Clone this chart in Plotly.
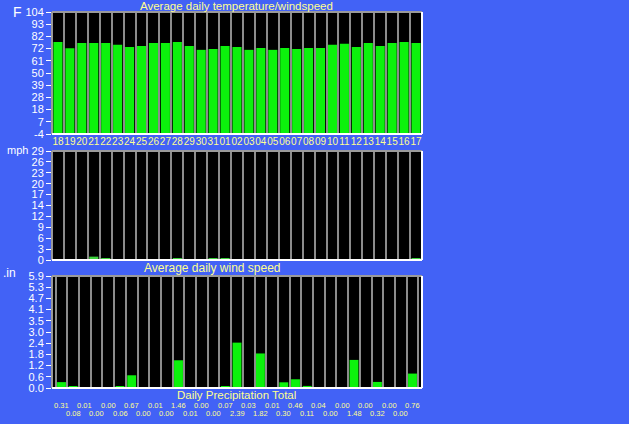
import plotly.graph_objects as go

days = ["18", "19", "20", "21", "22", "23", "24", "25", "26", "27", "28", "29", "30", "31",
        "01", "02", "03", "04", "05", "06", "07", "08", "09", "10", "11", "12", "13", "14",
        "15", "16", "17"]

temp_f = [77.5, 71.9, 76.6, 76.6, 76.6, 74.9, 73.1, 74.0, 76.6, 76.6, 77.5, 74.0, 70.5, 71.3,
          74.0, 73.1, 70.5, 72.2, 70.5, 72.2, 71.3, 72.2, 72.2, 74.9, 75.8, 73.1, 76.6, 74.0,
          76.6, 77.5, 76.6]

wind_mph = [0, 0, 0, 0.9, 0.4, 0, 0, 0, 0, 0, 0.3, 0, 0, 0.3,
            0.3, 0, 0, 0, 0, 0, 0, 0, 0, 0, 0, 0, 0, 0,
            0, 0, 0.3]

precip_in = [0.31, 0.08, 0.01, 0.00, 0.00, 0.06, 0.67, 0.00, 0.01, 0.00, 1.46, 0.01, 0.00, 0.00,
             0.07, 2.39, 0.03, 1.82, 0.01, 0.30, 0.46, 0.11, 0.04, 0.00, 0.00, 1.48, 0.00, 0.32,
             0.00, 0.00, 0.76]

temp_ticks = ["-4", "7", "18", "28", "39", "50", "61", "72", "82", "93", "104"]
wind_ticks = ["0", "3", "6", "9", "12", "14", "17", "20", "23", "26", "29"]
precip_ticks = ["0.0", "0.6", "1.2", "1.8", "2.4", "3.0", "3.5", "4.1", "4.7", "5.3", "5.9"]

temp_range = [-4, 104]
wind_range = [0, 29]
precip_range = [0, 5.9]

BG = "#4262F6"
GREEN = "#0CF20C"
YELLOW = "#FFFF90"
FONT = "Liberation Sans"


def tick_pos(rng, n):
    step = (rng[1] - rng[0]) / (n - 1)
    return [rng[0] + i * step for i in range(n)]


fig = go.Figure()

fig.add_trace(go.Bar(x=days, y=[t - temp_range[0] for t in temp_f], base=temp_range[0],
                     marker=dict(color=GREEN, line=dict(width=0)), width=0.76,
                     xaxis="x", yaxis="y", hovertext=temp_f))
fig.add_trace(go.Bar(x=days, y=wind_mph, marker=dict(color="#3ED43E", line=dict(width=0)),
                     width=0.76, xaxis="x2", yaxis="y2"))
fig.add_trace(go.Bar(x=days, y=precip_in, marker=dict(color=GREEN, line=dict(width=0)),
                     width=0.76, xaxis="x3", yaxis="y3"))

xdom = [52 / 629, 422 / 629]
xcommon = dict(type="category", domain=xdom, tickson="boundaries", showgrid=True,
               gridcolor="#8C8C8C", gridwidth=1.5, ticks="", showline=False, zeroline=False,
               tickmode="linear", dtick=1, tickangle=0, fixedrange=True)
ycommon = dict(showgrid=False, zeroline=False, ticks="outside", ticklen=5, tickcolor="white",
               tickwidth=1, tickfont=dict(family=FONT, size=11, color="white"), fixedrange=True)

fig.update_layout(
    width=629, height=424,
    margin=dict(l=0, r=0, t=0, b=0, autoexpand=False),
    paper_bgcolor=BG, plot_bgcolor="black",
    showlegend=False, bargap=0.24,
    xaxis=dict(**xcommon, anchor="y", showticklabels=True,
               tickfont=dict(family=FONT, size=10, color=YELLOW)),
    xaxis2=dict(**xcommon, anchor="y2", showticklabels=False),
    xaxis3=dict(**xcommon, anchor="y3", showticklabels=False),
    yaxis=dict(**ycommon, anchor="x", domain=[(424 - 134) / 424, (424 - 12) / 424],
               range=temp_range, tickvals=tick_pos(temp_range, len(temp_ticks)),
               ticktext=temp_ticks),
    yaxis2=dict(**ycommon, anchor="x2", domain=[(424 - 260) / 424, (424 - 151) / 424],
                range=wind_range, tickvals=tick_pos(wind_range, len(wind_ticks)),
                ticktext=wind_ticks),
    yaxis3=dict(**ycommon, anchor="x3", domain=[(424 - 388) / 424, (424 - 276) / 424],
                range=precip_range, tickvals=tick_pos(precip_range, len(precip_ticks)),
                ticktext=precip_ticks),
)

# bevelled frame round each panel
for xa, ya in [("x", "y"), ("x2", "y2"), ("x3", "y3")]:
    xr, yr = xa + " domain", ya + " domain"
    for x0, y0, x1, y1, col in [(0, 1, 1, 1, "#9A9A9A"), (0, 0, 0, 1, "#9A9A9A"),
                                (0, 0, 1, 0, "white"), (1, 0, 1, 1, "white")]:
        fig.add_shape(type="line", xref=xr, yref=yr, x0=x0, y0=y0, x1=x1, y1=y1,
                      line=dict(color=col, width=2))

titles = [("Average daily temperature/windspeed", 236, 6, 11.5),
          ("Average daily wind speed", 212, 268, 12),
          ("Daily Precipitation Total", 236, 395, 11.5)]
for txt, px, py, sz in titles:
    fig.add_annotation(text=txt, xref="paper", yref="paper", x=px / 629, y=1 - py / 424,
                       showarrow=False, xanchor="center", yanchor="middle",
                       font=dict(family=FONT, size=sz, color=YELLOW))

units = [("F", 17, 12, 14), ("mph", 17, 150, 11), (".in", 9, 273, 12)]
for txt, px, py, sz in units:
    fig.add_annotation(text=txt, xref="paper", yref="paper", x=px / 629, y=1 - py / 424,
                       showarrow=False, xanchor="center", yanchor="middle",
                       font=dict(family=FONT, size=sz, color="white"))

# precipitation totals under the bottom panel, alternating rows (x as category index)
for i, v in enumerate(precip_in):
    py = 405.5 if i % 2 == 0 else 413
    fig.add_annotation(text=f"{v:.2f}", xref="x3", yref="paper", x=i, y=1 - py / 424,
                       showarrow=False, xanchor="center", yanchor="middle",
                       font=dict(family=FONT, size=7.5, color=YELLOW))

fig.write_html("out.html", config={"displayModeBar": False},
               post_script="document.body.style.margin='0';")
